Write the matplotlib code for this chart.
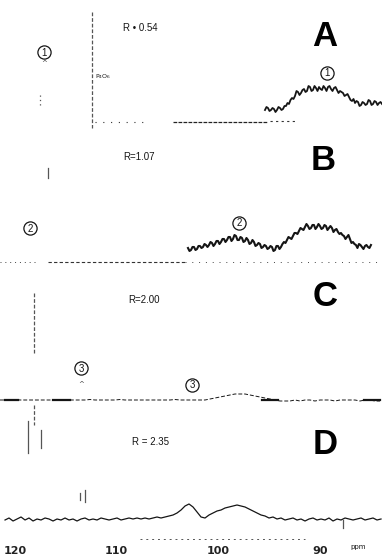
import numpy as np
import matplotlib
matplotlib.use("Agg")
import matplotlib.pyplot as plt

# ---------------- data ----------------
tick_ppm = [120, 110, 100, 90]
tick_labels = ["120", "110", "100", "90"]

ratio_labels = ["R \u2022 0.54", "R=1.07", "R=2.00", "R = 2.35"]
panel_letters = ["A", "B", "C", "D"]

# trace A : ppm range and heights above its baseline
a_range = (95.42, 83.91)
a_height = [12, 15, 14, 11, 12, 14, 13, 10, 12, 15,
            14, 12, 13, 16, 16, 19, 18, 22, 24, 23,
            26, 31, 30, 27, 29, 32, 33, 30, 31, 36,
            35, 31, 32, 36, 34, 31, 35, 33, 32, 36,
            34, 31, 35, 36, 33, 31, 34, 35, 32, 29,
            31, 30, 29, 26, 27, 28, 25, 22, 21, 23,
            19, 21, 20, 16, 17, 20, 19, 17, 18, 22,
            21, 17, 18, 21, 20, 17, 19, 20, 18]

# trace B
b_range = (102.99, 85.0)
b_height = [14, 11, 12, 15, 15, 12, 13, 16, 16, 14, 15, 18, 17, 15, 17, 20, 19, 16, 18, 21,
            21, 18, 20, 23, 23, 20, 22, 25, 25, 21, 23, 27, 26, 22, 22, 25, 24, 20, 21, 24,
            22, 18, 19, 22, 20, 16, 17, 19, 18, 14, 15, 17, 16, 13, 14, 16, 15, 11, 12, 16,
            16, 13, 15, 18, 20, 19, 22, 25, 24, 23, 26, 29, 29, 28, 31, 34, 33, 32, 35, 38,
            36, 33, 34, 37, 37, 33, 35, 38, 36, 33, 34, 37, 36, 32, 34, 36, 34, 30, 32, 33,
            30, 28, 29, 27, 26, 23, 25, 27, 23, 19, 20, 18, 17, 14, 18, 17, 15, 13, 16, 17,
            15, 14, 17]

# trace C
c_range = (121.475, 84.11)
c_height = [0, 0, 0, 0.5, 0, 0, 0, 0, 0, 0, 0, 0.5, 0, 0, 0, 0, 0, 0, 0.5, 0,
            0, 0, 0, 0, 0.5, 0, 0, 0, 0, 0, 0, 0, 0, 0, 0, 0.5, 0, 0, 0, 0,
            0, 0, 1, 2, 3, 4, 5, 6, 6, 6, 5, 4, 3, 2, 1, 0, -1,
            -1, -1, 0, -1, 0, 0, -1, 0, 0, 0, -1, 0, 0, 0, 0, -1, 0, 0, -1, -1]

# trace D
d_range = (120.98, 84.01)
d_height = [1, 3, 0, 2, 4, 1, 3, 0, 2, 1, 3, 2, 0, 2, 1, 3, 1, 2, 0, 2,
            3, 1, 2, 1, 3, 2, 1, 2, 3, 1, 2, 3, 2, 3, 2, 3, 2, 3, 4, 3,
            4, 5,
            6, 8, 11, 15, 17, 14, 9, 4, 3, 6, 8, 10, 11, 13, 14, 15, 16, 15, 14, 12,
            10, 8, 6, 5, 3, 4,
            2, 3, 1, 2, 3, 1, 2, 0, 2, 3, 1, 2, 1, 3, 0, 2, 1, 3, 2, 1,
            2, 3, 1, 2, 3, 1, 2]

# sharp (off-scale) lines: ppm, top, bottom (vertical extent in panel units)
sharp_ppm = [112.43, 117.54, 116.755, 118.13, 118.13, 118.72, 117.44, 113.61, 113.12, 87.75]
sharp_top = [12, 95, 168, 293, 405, 421, 430, 493, 490, 520]
sharp_bot = [128, 108, 178, 353, 425, 453, 448, 500, 502, 528]
sharp_style = ["dash", "dot", "solid", "dash", "dash", "solid", "solid", "solid", "solid", "solid"]

# ---------------- layout ----------------
PPM_LEFT = 121.475
PX_PER_PPM = 10.17


def ppm(x):
    return PPM_LEFT - x / PX_PER_PPM


base_y = {"A": 122, "B": 262, "C": 400, "D": 521}

fig = plt.figure(figsize=(3.82, 5.60), dpi=100)
ax = fig.add_axes([0, 20 / 560, 1, 540 / 560])
ax.set_xlim(PPM_LEFT, ppm(382))
ax.set_ylim(540, 0)
for s in ax.spines.values():
    s.set_visible(False)
ax.set_yticks([])
ax.set_xticks(tick_ppm)
ax.set_xticklabels(tick_labels)
ax.tick_params(axis="x", length=0, pad=4)
for lab in ax.get_xticklabels():
    lab.set_family(["Liberation Sans Narrow", "DejaVu Sans"])
    lab.set_fontsize(8)
    lab.set_fontweight("bold")
    lab.set_color("#222222")

INK = "#151515"


def trace(rng, h, base, **kw):
    x = np.linspace(rng[0], rng[1], len(h))
    ax.plot(x, base - np.asarray(h, dtype=float), color=INK, **kw)


# baselines (dashed / dotted)
ax.plot([ppm(95), ppm(148)], [base_y["A"], base_y["A"]], color="#333", lw=0.8,
        linestyle=(0, (1, 6)))
ax.plot([ppm(173), ppm(268)], [base_y["A"], base_y["A"]], color="#222", lw=0.9,
        linestyle=(0, (3, 1)))
ax.plot([ppm(270), ppm(297)], [base_y["A"] - 1, base_y["A"] - 1], color="#333", lw=0.8,
        linestyle=(0, (2, 3)))
ax.plot([ppm(0), ppm(35)], [base_y["B"], base_y["B"]], color="#444", lw=0.7,
        linestyle=(0, (1, 4)))
ax.plot([ppm(48), ppm(185)], [base_y["B"], base_y["B"]], color="#333", lw=0.8,
        linestyle=(0, (3, 2)))
ax.plot([ppm(185), ppm(382)], [base_y["B"], base_y["B"]], color="#444", lw=0.7,
        linestyle=(0, (1, 6)))

# traces
trace(a_range, a_height, base_y["A"], lw=1.3)
trace(b_range, b_height, base_y["B"], lw=1.5)
trace(c_range, c_height, base_y["C"], lw=0.7, linestyle=(0, (4, 2)))
for x0, x1 in [(5, 18), (53, 70), (262, 278), (364, 380)]:
    ax.plot([ppm(x0), ppm(x1)], [base_y["C"], base_y["C"]], color=INK, lw=1.6)
trace(d_range, d_height, base_y["D"], lw=0.9)

# sharp lines
styles = {"dash": (0, (3, 1.5)), "dot": (0, (1, 2.5)), "solid": "-"}
for xp, t, b, st in zip(sharp_ppm, sharp_top, sharp_bot, sharp_style):
    ax.plot([xp, xp], [t, b], color="#555", lw=0.9, linestyle=styles[st])

# dotted line below D
ax.plot([ppm(140), ppm(305)], [539, 539], color="#555", lw=0.7, linestyle=(0, (2, 4)))

# ratio labels and panel letters
r_pos = [(123, 28), (123, 157), (128, 300), (132, 442)]
for lab, (x, y) in zip(ratio_labels, r_pos):
    ax.text(ppm(x), y, lab, fontsize=7, family="Liberation Sans", ha="left",
            va="center", color=INK)
l_pos = [(325, 36), (323, 160), (325, 297), (325, 445)]
for lab, (x, y) in zip(panel_letters, l_pos):
    ax.text(ppm(x), y, lab, fontsize=25, family="Liberation Sans", weight="bold",
            ha="center", va="center", color="black")

# circled numbers
circ = [("1", 44, 52), ("1", 327, 73), ("2", 30, 228), ("2", 239, 223),
        ("3", 81, 368), ("3", 192, 385)]
for num, x, y in circ:
    ax.plot([ppm(x)], [y], marker="o", markersize=9.5, markerfacecolor="white",
            markeredgecolor=INK, markeredgewidth=0.9, linestyle="none")
    ax.text(ppm(x), y + 0.5, num, fontsize=7, family="Liberation Sans", ha="center",
            va="center", color=INK)
for x, y in [(44, 63), (81, 384)]:
    ax.text(ppm(x), y, "^", fontsize=5, ha="center", va="center", color="#444")

ax.text(ppm(95), 77, r"P$_4$O$_6$", fontsize=4.5, ha="left", va="center", color=INK)
ax.text(ppm(350), 547, "ppm", fontsize=5, ha="left", va="center", color=INK,
        clip_on=False)

fig.savefig("out.png", dpi=100)
